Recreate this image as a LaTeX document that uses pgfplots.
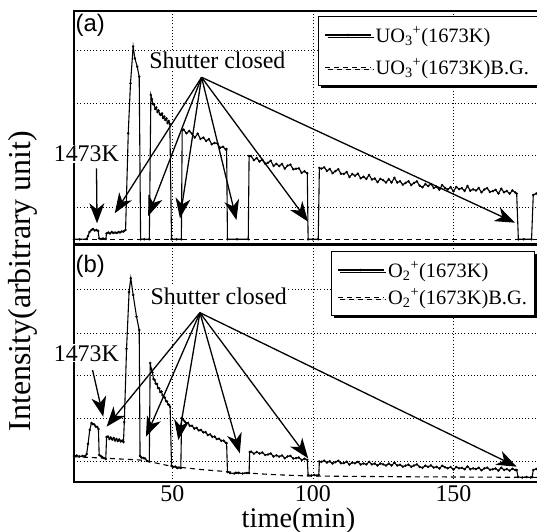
\documentclass[border=0pt]{standalone}
\usepackage{fontspec}
\setmainfont{Liberation Serif}
\newfontfamily\sansf{Liberation Sans}
\usepackage{pgfplots}
\pgfplotsset{compat=1.18}
\usetikzlibrary{arrows.meta,shadows}

\pgfplotstableread{
x y
15 5.7
17 5.7
19.5 6
20 9
20.5 13
21.2 15
21.8 16
22.4 14.5
23 15
23.6 14
23.95 6.5
24.6 6
25.3 6.5
26.3 6
26.6 11.5
27.2 12.5
27.8 11.5
28.4 13
29 12
29.6 12.5
30.2 12
30.8 13
31.4 12.5
32 13.5
32.6 13.5
33.35 15
34.3 111.7
35.1 161.7
36.05 198.3
36.65 186.7
37.5 178.3
38.2 168.3
38.7 5.7
40 5.7
41.8 5.7
42.35 150
42.7 146
43.1 141
43.5 140.5
43.9 136
44.3 137.5
44.7 133
45.1 134.5
45.5 131
45.9 130
46.3 131.5
46.7 127
47.1 128.5
47.5 125
47.9 126.5
48.3 122
48.7 124
49.1 121
49.7 5.7
51.5 5.7
53.2 5.7
53.5 115
54 115.4
55 111.7
56 114
57 111.2
58 107.5
59 111.3
60 106.1
61 107.4
62 104.1
63 105.9
64 100.8
65 102
66 101.6
67 97.2
68 98.3
69 95.4
69.3 96
69.6 5.7
73 5.7
77 5.7
77.3 89
78 88.9
79 84.9
80 87
81 83.5
82 85.3
83 81.3
84 82.2
85 84.2
86 79.1
87 81.1
88 79
89 81
90 76.4
91 79.4
92 80.3
93 75.7
94 76.2
95 76.7
96 72.2
97 73.7
98 71.7
98.3 5.7
100 5.7
101.9 5.7
102.3 77
103 76.3
104 77.7
105 74.1
106 76
107 71.9
108 73.8
109 75.8
110 71.2
111 71.1
112 73
113 68
114 70.9
115 69.3
116 71.3
117 66.7
118 68.2
119 66.1
120 70
121 65.5
122 66.4
123 62.9
124 66.1
125 64.8
126 62.6
127 65.8
128 62.5
129 67.2
130 62.4
131 63.7
132 60.4
133 62.1
134 63.8
135 60
136 62.1
137 63.6
138 59.2
139 57.8
140 60.9
141 59
142 61
143 57.1
144 58.2
145 55.3
146 59.9
147 57.1
148 55.5
149 57.8
150 53.7
151 58
152 55.9
153 56.8
154 54.1
155 59
156 54.3
157 55.7
158 54.5
159 56.9
160 52.7
161 55.5
162 56.8
163 53.1
164 53.9
165 55.2
166 51.5
167 56.3
168 52.7
169 54
170 51.3
171 54.6
172 52.4
172.5 51.3
173.1 5.7
175 5.7
177.8 5.7
178.4 50
179.5 51.5
181 50.5
}\uothree

\pgfplotstableread{
x y
15 5.7
100 5.7
181 5.7
}\uothreebg

\pgfplotstableread{
x y
15 26
16 26.5
17 25.5
18 26
19 26
19.5 28
20 38
20.6 52
21.2 59
21.7 58
22.2 57.5
22.7 55.5
23.3 55
23.7 53
23.95 27
24.5 26
25 25
25.6 24
26.3 23
26.6 45
27.1 45.5
27.6 43
28.1 44.5
28.6 42.5
29.1 44
29.6 41.5
30.1 43
30.6 41
31.1 42.5
31.6 40.5
32.2 41.5
32.6 40
32.9 60
33.7 133.3
34.6 190
35.2 203.7
36.05 187
37.25 165.3
38.2 152
38.5 26
39 24.5
39.7 24
40.3 23.5
41 21
41.8 20.5
42.1 119
42.5 113
42.9 109.5
43.3 103
43.7 102
44.1 98.5
44.5 98
44.9 94
45.3 93.5
45.7 90
46.1 90.5
46.5 87
46.9 85
47.3 84.5
47.7 81
48.1 80.5
48.5 77.5
48.9 77
49.2 75
49.7 16
50.3 15
51 15.5
51.7 14
52.4 14.5
53 14
53.3 64
53.8 62.5
54.4 60.5
55 58.6
55.6 58.9
56.2 56.3
57 56.2
57.8 53.4
58.6 54.1
59.4 51.6
60.2 52
61 49.6
61.8 49.9
62.6 47
63.4 47.6
64.2 45.2
65 45.4
65.8 43
66.6 43.3
67.4 41.2
68.2 41.4
69 39.2
69.3 38.8
69.6 10
70.5 9
72 8.5
73.5 9
75 8.5
76.5 9
77.3 9
77.5 30
78 30.4
79 28.3
80 30
81 28.4
82 29.5
83 27
84 27.5
85 28.6
86 25.5
87 26.7
88 25.4
89 26.6
90 23.8
91 25.6
92 26.1
93 23.4
94 23.9
95 24.5
96 22
97 23.2
98 22.2
98.3 7
99.5 6.5
100.5 7
101.5 6.5
102.1 7
102.3 20.5
103 20.2
104 21.3
105 19.4
106 20.7
107 18.5
108 19.9
109 21.3
110 18.7
111 18.9
112 20.3
113 17.4
114 19.4
115 18.7
116 20.1
117 17.5
118 18.6
119 17.6
120 20.2
121 17.6
122 18.4
123 16.5
124 18.5
125 17.7
126 16.4
127 18.4
128 16.5
129 19.3
130 16.5
131 17.2
132 15.3
133 16.4
134 17.4
135 15.2
136 16.5
137 17.6
138 15.1
139 14.3
140 16.3
141 15.2
142 16.6
143 14.4
144 15.1
145 13.5
146 16.3
147 14.7
148 13.7
149 15
150 12.5
151 15
152 13.7
153 14.2
154 12.7
155 15.6
156 12.8
157 13.6
158 12.9
159 14.3
160 11.8
161 13.6
162 14.4
163 12.2
164 12.7
165 13.5
166 11.3
167 14.3
168 12.1
169 12.9
170 11.3
171 13.3
172 12
172.5 12
173 5
174.5 4.5
176 5
177.5 4.5
178 5
178.4 12
179.5 13
181 12.5
}\otwo

\pgfplotstableread{
x y
15 25.3
26.6 23.7
38.5 22
42 20.3
50 15.5
60 12.5
71 10
85 7.5
98.3 6
128.6 5.3
173 4.7
181 4.7
}\otwobg

\tikzset{
  arr/.style={line width=1.3pt, -{Stealth[length=20bp,width=15bp,inset=6bp]}},
}
\pgfplotsset{
  panel/.style={
    scale only axis, width=466bp,
    xmin=15, xmax=180.8, ymin=0,
    xtick={50,100,150},
    grid=major,
    grid style={black, line width=0.6pt, dash pattern=on 0.8bp off 2.4bp},
    major tick length=0pt,
    yticklabels={},
    axis line style={line width=1.2pt},
    clip=false,
    /pgf/number format/assume math mode=true,
    legend cell align=left,
    legend image code/.code={\draw[mark repeat=2,mark phase=2,##1] plot coordinates {(0bp,0bp) (23bp,0bp) (46bp,0bp)};},
  },
  trace/.style={black, line width=1.1pt, mark=*, mark size=0.6pt},
  bgline/.style={black, line width=1.1pt, dash pattern=on 5bp off 4bp},
}

\begin{document}
\begin{tikzpicture}
\useasboundingbox (0,0) rectangle (537bp,532bp);
\clip (0,0) rectangle (537bp,532bp);

% panel (a)
\begin{axis}[panel, at={(74bp,287bp)}, height=234bp, ymax=234,
  ytick={38,90,142,195}, xticklabels={},
  legend style={at={(axis cs:101.8,229)}, anchor=north west, draw=black, line width=1pt,
    fill=white, font=\fontsize{20.5}{23}\selectfont, inner xsep=6bp, inner ysep=8bp,
    row sep=11bp,
    drop shadow={shadow xshift=2.5bp, shadow yshift=-2.5bp, fill=black, opacity=1}},
]
\addplot[trace] table[x=x,y=y] {\uothree};
\addlegendentry{\hspace{2bp}UO\textsubscript{3}\textsuperscript{+}(1673K)}
\addplot[bgline] table[x=x,y=y] {\uothreebg};
\addlegendentry{\hspace{2bp}UO\textsubscript{3}\textsuperscript{+}(1673K)B.G.\hspace{25bp}}
\node[font=\sansf\fontsize{24}{24}\selectfont] at (axis cs:20.8,220) {(a)};
\node[font=\fontsize{24}{24}\selectfont, fill=white, inner sep=1bp, anchor=base] at (axis cs:66,176.7) {Shutter closed};
\node[font=\fontsize{24}{24}\selectfont, fill=white, inner sep=1bp, anchor=base] at (axis cs:19.4,83.5) {1473K};
\draw[arr] (axis cs:23.0,76.7) -- (axis cs:23.2,21.7);
\draw[arr] (axis cs:60.4,167.7) -- (axis cs:29.5,31.7);
\draw[arr] (axis cs:60.4,167.7) -- (axis cs:41.4,29);
\draw[arr] (axis cs:60.4,167.7) -- (axis cs:52.7,26.7);
\draw[arr] (axis cs:60.4,167.7) -- (axis cs:72.8,25);
\draw[arr] (axis cs:60.4,167.7) -- (axis cs:98.3,23.3);
\draw[arr] (axis cs:60.4,167.7) -- (axis cs:171.9,22.3);
\end{axis}

% panel (b)
\begin{axis}[panel, at={(74bp,50bp)}, height=238bp, ymax=238,
  ytick={21,64,107,149,193},
  xticklabel style={font=\fontsize{24}{24}\selectfont},
  legend style={at={(axis cs:106.3,231)}, anchor=north west, draw=black, line width=1pt,
    fill=white, font=\fontsize{20.5}{23}\selectfont, inner xsep=6bp, inner ysep=8bp,
    row sep=6bp,
    drop shadow={shadow xshift=2.5bp, shadow yshift=-2.5bp, fill=black, opacity=1}},
]
\addplot[trace] table[x=x,y=y] {\otwo};
\addlegendentry{\hspace{2bp}O\textsubscript{2}\textsuperscript{+}(1673K)}
\addplot[bgline] table[x=x,y=y] {\otwobg};
\addlegendentry{\hspace{2bp}O\textsubscript{2}\textsuperscript{+}(1673K)B.G.\hspace{2bp}}
\node[font=\sansf\fontsize{24}{24}\selectfont] at (axis cs:20.8,215.5) {(b)};
\node[font=\fontsize{24}{24}\selectfont, fill=white, inner sep=1bp, anchor=base] at (axis cs:66.5,178) {Shutter closed};
\node[font=\fontsize{24}{24}\selectfont, fill=white, inner sep=1bp, anchor=base] at (axis cs:19.4,121) {1473K};
\draw[arr] (axis cs:21.6,112) -- (axis cs:25.4,65.3);
\draw[arr] (axis cs:59.8,169.3) -- (axis cs:26.6,55.3);
\draw[arr] (axis cs:59.8,169.3) -- (axis cs:40.6,45.3);
\draw[arr] (axis cs:59.8,169.3) -- (axis cs:52.1,42);
\draw[arr] (axis cs:59.8,169.3) -- (axis cs:74.0,28.7);
\draw[arr] (axis cs:59.8,169.3) -- (axis cs:98.3,23.7);
\draw[arr] (axis cs:59.8,169.3) -- (axis cs:172.5,15.3);
\end{axis}

\node[font=\fontsize{28.5}{28.5}\selectfont, anchor=base] at (298.5bp,5bp) {time(min)};
\node[font=\fontsize{32}{32}\selectfont, rotate=90] at (22.5bp,251bp) {Intensity(arbitrary unit)};
\end{tikzpicture}
\end{document}
